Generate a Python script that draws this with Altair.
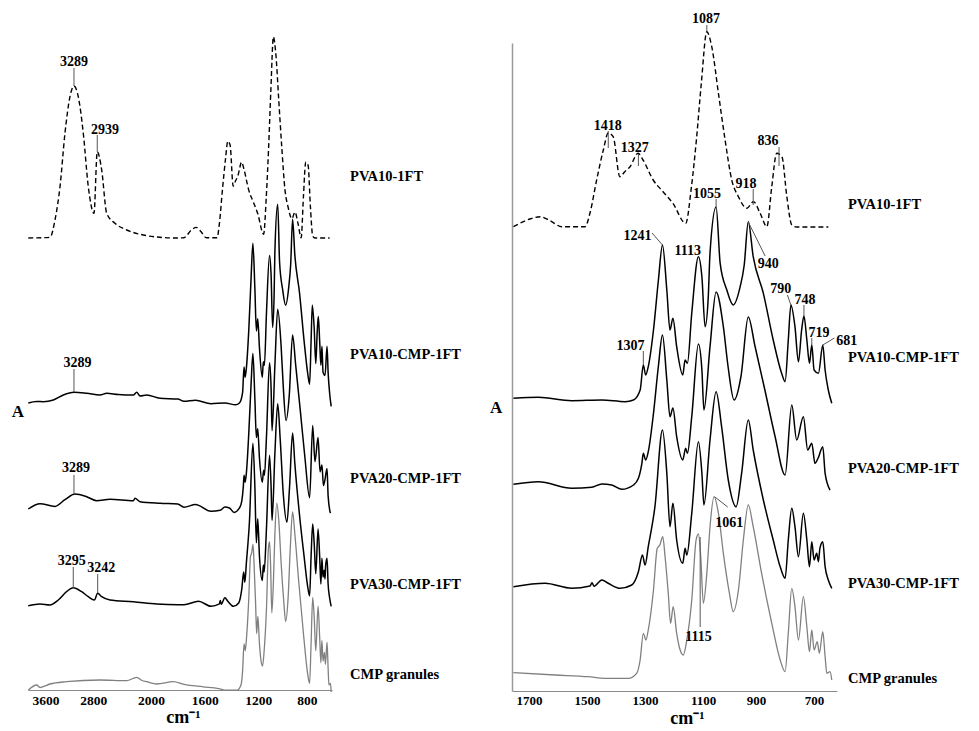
import altair as alt
import pandas as pd

SERIES = ["PVA10-1FT", "PVA10-CMP-1FT", "PVA20-CMP-1FT", "PVA30-CMP-1FT", "CMP granules"]

# ---- spectra, region 1760-650 cm-1 (shared by both panels), absorbance in chart units ----
pva10ft_wn = [1754, 1697, 1662, 1628, 1587, 1507, 1490, 1467, 1444, 1427, 1410, 1387, 1370, 1352, 1324, 1307,
              1272, 1238, 1204, 1160, 1140, 1123, 1106, 1087, 1070, 1047, 1024, 1001, 978, 949, 926, 903, 880,
              863, 846, 828, 811, 794, 777, 668]
pva10ft_ab = [0.3, 8, 10.3, 6.3, 0.3, 0.3, 14, 47, 77, 94, 90.3, 50.3, 55.3, 60.3, 73.7, 67,
              47, 35.3, 23.7, 3.7, 40.3, 87, 143.7, 195.3, 180.3, 133.7, 87, 47, 30.3, 18.7, 25.3, 13.7, 0.3,
              40.3, 73.7, 70.3, 30.3, 2, 0, 0]

pva10cmp_wn = [1754, 1668, 1553, 1449, 1369, 1340, 1317, 1306, 1298, 1289, 1271, 1254, 1240, 1225, 1214, 1204,
               1191, 1170, 1162, 1154, 1139, 1116, 1104, 1093, 1082, 1076, 1055, 1041, 1018, 996, 972, 958, 944,
               927, 892, 858, 829, 817, 806, 797, 783, 771, 760, 752, 742, 733, 725, 717, 702, 687, 679, 668, 656]
pva10cmp_ab = [1.7, 2.7, -0.7, 0, -1.7, 0, 10, 35, 25, 33.3, 70, 120, 155, 110, 70, 81.7,
               53.3, 25, 40, 36.7, 86.7, 143.3, 123.3, 73.3, 103.3, 147, 193, 136.7, 110, 95, 113.3, 135, 178.3,
               143.3, 106.7, 60, 26.7, 18.3, 60, 95, 73.3, 38.3, 70, 84, 60, 36.7, 55, 30, 26.7, 55, 30, 10, -3.3]

pva20cmp_wn = [1754, 1668, 1553, 1484, 1449, 1415, 1380, 1340, 1323, 1311, 1306, 1298, 1289, 1271, 1254, 1240,
               1225, 1214, 1204, 1191, 1170, 1160, 1154, 1139, 1116, 1104, 1097, 1076, 1055, 1030, 1014, 993, 969,
               944, 921, 886, 852, 817, 794, 777, 754, 739, 725, 714, 703, 687, 679, 662]
pva20cmp_ab = [1.7, 4.3, -2.3, -1.3, 2, 1, -3.3, 1, 7.7, 22.7, 32.7, 26, 34.3, 72.7, 120, 151,
               106, 69.3, 78, 49.3, 26, 37.7, 32.7, 69.3, 142, 116, 76, 139.3, 194, 159.3, 120, 86, 110,
               169, 140, 95, 50, 11, 81, 46, 69.3, 36, 42.7, 22.7, 28, 39.3, 12.7, -4]

pva30cmp_wn = [1754, 1645, 1553, 1490, 1483, 1476, 1449, 1427, 1386, 1346, 1323, 1309, 1300, 1289, 1266, 1240,
               1225, 1214, 1204, 1191, 1170, 1162, 1156, 1139, 1116, 1104, 1097, 1076, 1055, 1036, 1013, 986, 967,
               944, 927, 892, 858, 834, 817, 806, 794, 783, 771, 754, 742, 733, 725, 717, 708, 702, 697, 687, 679,
               668, 656]
pva30cmp_ab = [1, 4.4, -0.6, 1.7, 5, 1.5, 7.7, 4.4, -0.6, 2.7, 16, 32.7, 22.7, 41, 81, 157.7,
               114.4, 61, 84.4, 47.7, 24.4, 39.4, 32.7, 74.4, 146, 114.4, 82.7, 147.7, 196, 161, 107.7, 81, 114.4,
               167.7, 137.7, 87.7, 47.7, 21, 9.4, 47.7, 79.4, 61, 31, 74.4, 47.7, 21, 46, 27.7, 34.4, 26, 39.4, 46, 21,
               7.7, -0.6]

cmp_wn = [1754, 1610, 1496, 1438, 1358, 1329, 1317, 1306, 1297, 1289, 1271, 1258, 1249, 1239, 1231, 1220,
          1212, 1203, 1191, 1179, 1168, 1156, 1139, 1124, 1116, 1108, 1099, 1087, 1076, 1062, 1047, 1030, 1009,
          996, 978, 961, 944, 927, 898, 863, 834, 817, 806, 794, 783, 771, 754, 742, 733, 725, 717, 706, 699,
          687, 679, 673, 662, 656]
cmp_ab = [-0.4, -2.7, -4.4, -6, -6, -1, 12.3, 39, 32.3, 42.3, 82.3, 124, 127.3, 135.6, 115.6, 79,
          49, 65.6, 39, 22.3, 17.3, 32.3, 72.3, 132.3, 138.3, 115.6, 69, 99, 145.6, 175.6, 159, 119, 79,
          60.6, 82.3, 132.3, 167.3, 145.6, 99, 49, 12.3, 0.6, 39, 84, 65.6, 32.3, 75.6, 45.6, 20.6, 42.3, 22.3, 30.6, 19,
          40.6, 15.6, -1, 0.6, -7.7]

# ---- spectra, region 4060-1760 cm-1 (left panel only) ----
pva10ft_hi_wn = [4055, 3692, 3608, 3524, 3441, 3357, 3290, 3218, 3134, 3050, 2955, 2900, 2826, 2742, 2603,
                 2407, 2129, 1933, 1800]
pva10ft_hi_ab = [0, 0.7, 18, 51.3, 104.7, 141.3, 152, 141.3, 104.7, 51.3, 24.7, 86.3, 68, 24.7, 14.7,
                 8, 3, 0.7, 0]
pva10cmp_hi_wn = [4055, 3915, 3804, 3636, 3469, 3290, 3077, 2854, 2742, 2550, 2296, 2240, 2184, 2072, 1933, 1800]
pva10cmp_hi_ab = [0, 1.5, 1.3, 3, 8, 10.7, 9.7, 8, 9.7, 8.5, 8, 10.7, 7, 8, 4.7, 4]
pva20cmp_hi_wn = [4055, 3859, 3608, 3441, 3273, 3077, 2910, 2687, 2296, 2268, 2184, 1933, 1800]
pva20cmp_hi_ab = [0, 5.3, 2.6, 9.3, 15, 12.3, 8.3, 9.7, 8.3, 10.7, 7.3, 5.7, 5]
pva30cmp_hi_wn = [4055, 3859, 3692, 3553, 3415, 3302, 3161, 3050, 2950, 2893, 2826, 2687, 2296, 1957, 1800]
pva30cmp_hi_ab = [0, 1.7, 0.7, 5.7, 14, 18, 14, 9, 5.7, 12.4, 9, 5.7, 4, 1.7, 1]
cmp_hi_wn = [4055, 3915, 3860, 3804, 3692, 3415, 2854, 2407, 2240, 2150, 2072, 1957, 1834]
cmp_hi_ab = [-6, -1, -3.5, -2.7, 0, 2.3, 4, 3.3, 6.7, 3.5, 2.3, 0, 2.3]

SHARED = {
    "PVA10-1FT": (pva10ft_wn, pva10ft_ab),
    "PVA10-CMP-1FT": (pva10cmp_wn, pva10cmp_ab),
    "PVA20-CMP-1FT": (pva20cmp_wn, pva20cmp_ab),
    "PVA30-CMP-1FT": (pva30cmp_wn, pva30cmp_ab),
    "CMP granules": (cmp_wn, cmp_ab),
}
HIGH = {
    "PVA10-1FT": (pva10ft_hi_wn, pva10ft_hi_ab),
    "PVA10-CMP-1FT": (pva10cmp_hi_wn, pva10cmp_hi_ab),
    "PVA20-CMP-1FT": (pva20cmp_hi_wn, pva20cmp_hi_ab),
    "PVA30-CMP-1FT": (pva30cmp_hi_wn, pva30cmp_hi_ab),
    "CMP granules": (cmp_hi_wn, cmp_hi_ab),
}
# vertical stacking offsets of each trace in each panel
left_offsets = [452, 287, 181, 84.3, 6]
right_offsets = [464, 291, 205, 103.3, 18.7]
LEFT_GAIN = 1.03

# ---- annotations ----
left_ann_text = ["3289", "2939", "3289", "3289", "3295", "3242"]
left_ann_x = [3290, 2771, 3231, 3256, 3328, 2833]
left_ann_y = [628, 560, 327, 222, 129, 122]
left_lead_x = [3290, 2900, 3290, 3290, 3302, 2893]
left_lead_x2 = [3290, 2900, 3290, 3290, 3302, 2893]
left_lead_y = [622, 555, 321, 215, 123, 116]
left_lead_y2 = [604, 538, 298, 196, 102, 97]

right_ann_text = ["1087", "1418", "1327", "1055", "918", "836", "1241", "1113", "940", "790", "748", "719",
                  "681", "1307", "1061", "1115"]
right_ann_x = [1090, 1429, 1336, 1086, 952, 876, 1326, 1153, 875, 832, 748, 700, 604, 1350, 1010, 1116]
right_ann_y = [672.5, 565.5, 542.7, 497.5, 507.5, 550, 455, 440.5, 427, 402, 391, 358.5, 350, 345, 168, 54.3]
right_lead_x = [1087, 1427, 1323, 1055, 927, 838, 1276, 944, 809, 752, 725, 647, 1306, 1059, 1110]
right_lead_x2 = [1087, 1427, 1323, 1055, 927, 838, 1240, 886, 797, 752, 725, 687, 1306, 1015, 1110]
right_lead_y = [666, 560, 537, 492, 502, 544, 458, 469, 396, 386, 353, 353, 340, 194, 154]
right_lead_y2 = [660, 543, 525, 484, 486, 525, 446, 435, 386, 375, 346, 346, 326, 184, 64]

left_label_y = [513, 335, 211, 105, 15]
right_label_y = [486, 333.3, 222, 107, 12]
left_label_x = 515
right_label_x = 600
left_A = (4228, 278)
right_A = (1814, 283)

STYLE = {
    "PVA10-1FT": dict(color="black", strokeWidth=1.4, strokeDash=[5, 3]),
    "PVA10-CMP-1FT": dict(color="black", strokeWidth=1.5),
    "PVA20-CMP-1FT": dict(color="black", strokeWidth=1.5),
    "PVA30-CMP-1FT": dict(color="black", strokeWidth=1.5),
    "CMP granules": dict(color="#808080", strokeWidth=1.3),
}

FONT = "Liberation Serif"

# ---- left panel ----
XL = alt.X("wn:Q",
           scale=alt.Scale(domain=[4060, 2000, 650], range=[20, 143, 324], nice=False, zero=False),
           axis=alt.Axis(values=[3600, 2800, 2000, 1600, 1200, 800], format="d", ticks=False, grid=False,
                         domainColor="#8a8a8a", domainWidth=1.2, labelFont=FONT, labelFontWeight="bold",
                         labelFontSize=13.5, labelColor="black", labelPadding=3,
                         labelOffset={"condition": [{"test": "datum.value > 2400", "value": -10},
                                                    {"test": "datum.value < 1000", "value": -5}],
                                      "value": 0},
                         title="cm⁻¹", titleFont=FONT, titleFontWeight="bold", titleFontSize=18,
                         titleColor="black", titleX=175, titleY=18, titleBaseline="top"))
YL = alt.Y("y:Q", scale=alt.Scale(domain=[0, 682], nice=False, zero=False), axis=None)

left_layers = []
for i, name in enumerate(SERIES):
    hw, ha = HIGH[name]
    sw, sa = SHARED[name]
    ys = [left_offsets[i] + a for a in ha] + [left_offsets[i] + LEFT_GAIN * a for a in sa]
    df = pd.DataFrame({"wn": list(hw) + list(sw), "y": ys})
    left_layers.append(alt.Chart(df).mark_line(interpolate="monotone", **STYLE[name]).encode(x=XL, y=YL))

ldf_lead = pd.DataFrame({"wn": left_lead_x, "wn2": left_lead_x2, "y": left_lead_y, "y2": left_lead_y2})
left_layers.append(alt.Chart(ldf_lead).mark_rule(color="#555", strokeWidth=1).encode(
    x=XL, x2="wn2:Q", y=YL, y2="y2:Q"))
ldf_ann = pd.DataFrame({"wn": left_ann_x, "y": left_ann_y, "t": left_ann_text})
left_layers.append(alt.Chart(ldf_ann).mark_text(font=FONT, fontWeight="bold", fontSize=14, color="black",
                                                baseline="middle", align="center").encode(x=XL, y=YL, text="t:N"))
ldf_lab = pd.DataFrame({"wn": [left_label_x] * 5, "y": left_label_y, "t": SERIES})
left_layers.append(alt.Chart(ldf_lab).mark_text(font=FONT, fontWeight="bold", fontSize=14.5, color="black",
                                                baseline="middle", align="left").encode(x=XL, y=YL, text="t:N"))
ldf_A = pd.DataFrame({"wn": [left_A[0]], "y": [left_A[1]], "t": ["A"]})
left_layers.append(alt.Chart(ldf_A).mark_text(font=FONT, fontWeight="bold", fontSize=17, color="black",
                                              baseline="middle", align="center").encode(x=XL, y=YL, text="t:N"))

left = alt.layer(*left_layers).properties(width=470, height=682)

# ---- right panel ----
XR = alt.X("wn:Q",
           scale=alt.Scale(domain=[1759, 638], range=[27, 352], nice=False, zero=False),
           axis=alt.Axis(values=[1700, 1500, 1300, 1100, 900, 700], format="d", ticks=False, grid=False,
                         domainColor="#8a8a8a", domainWidth=1.2, labelFont=FONT, labelFontWeight="bold",
                         labelFontSize=13, labelColor="black", labelPadding=3,
                         labelOffset={"condition": {"test": "datum.value < 1000", "value": -5}, "value": 0},
                         title="cm⁻¹", titleFont=FONT, titleFontWeight="bold", titleFontSize=18,
                         titleColor="black", titleX=202, titleY=18, titleBaseline="top"))
YR = alt.Y("y:Q", scale=alt.Scale(domain=[0, 648], range=[683, 35], nice=False, zero=False),
           axis=alt.Axis(domain=True, domainColor="#9a9a9a", domainWidth=1.5, ticks=False, labels=False,
                         grid=False, title=None, offset=-27))

right_layers = []
for i, name in enumerate(SERIES):
    sw, sa = SHARED[name]
    df = pd.DataFrame({"wn": sw, "y": [right_offsets[i] + a for a in sa]})
    right_layers.append(alt.Chart(df).mark_line(interpolate="monotone", **STYLE[name]).encode(x=XR, y=YR))

rdf_lead = pd.DataFrame({"wn": right_lead_x, "wn2": right_lead_x2, "y": right_lead_y, "y2": right_lead_y2})
right_layers.append(alt.Chart(rdf_lead).mark_rule(color="#555", strokeWidth=1).encode(
    x=XR, x2="wn2:Q", y=YR, y2="y2:Q"))
rdf_ann = pd.DataFrame({"wn": right_ann_x, "y": right_ann_y, "t": right_ann_text})
right_layers.append(alt.Chart(rdf_ann).mark_text(font=FONT, fontWeight="bold", fontSize=14, color="black",
                                                 baseline="middle", align="center").encode(x=XR, y=YR, text="t:N"))
rdf_lab = pd.DataFrame({"wn": [right_label_x] * 5, "y": right_label_y, "t": SERIES})
right_layers.append(alt.Chart(rdf_lab).mark_text(font=FONT, fontWeight="bold", fontSize=14.5, color="black",
                                                 baseline="middle", align="left").encode(x=XR, y=YR, text="t:N"))
rdf_A = pd.DataFrame({"wn": [right_A[0]], "y": [right_A[1]], "t": ["A"]})
right_layers.append(alt.Chart(rdf_A).mark_text(font=FONT, fontWeight="bold", fontSize=17, color="black",
                                               baseline="middle", align="center").encode(x=XR, y=YR, text="t:N"))

right = alt.layer(*right_layers).properties(width=485, height=683)

chart = alt.hconcat(left, right, spacing=7).properties(padding=0, background="white").configure_view(stroke=None)

chart.save("out.html", embed_options={"renderer": "svg", "actions": False})
